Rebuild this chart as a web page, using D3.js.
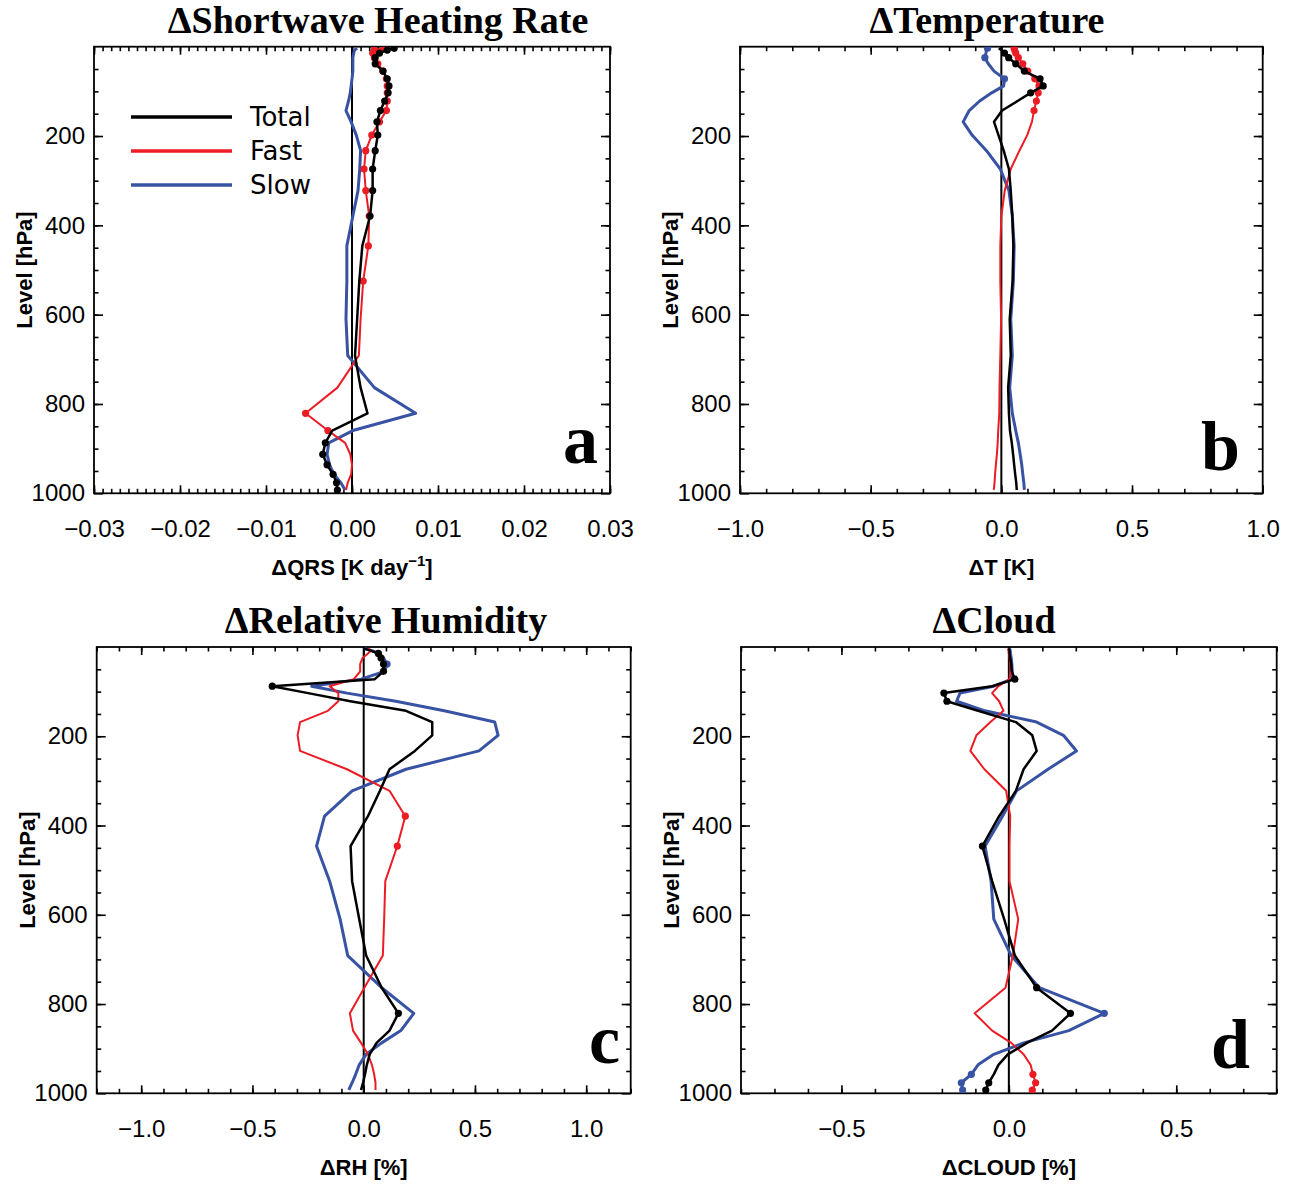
<!DOCTYPE html>
<html>
<head>
<meta charset="utf-8">
<script src="https://cdn.jsdelivr.net/npm/d3@7"></script>
<style>
  body { margin: 0; background: #fff; }
  .tick text { font-family: "Liberation Sans", Arial, sans-serif; font-size: 24px; fill: #000; }
  .axis-title { font-family: "Liberation Sans", Arial, sans-serif; font-size: 22px; font-weight: bold; }
  .title { font-family: "Liberation Serif", "Times New Roman", serif; font-size: 38px; font-weight: bold; }
  .letter { font-family: "Liberation Serif", "Times New Roman", serif; font-size: 70px; font-weight: bold; }
  .legend { font-family: "DejaVu Sans", sans-serif; font-size: 26px; }
</style>
</head>
<body>
<div id="chart"></div>
<script>
// model levels (hPa)
const levels = [3.64, 7.59, 14.36, 24.61, 38.27, 54.6, 72.01, 87.82, 103.32, 121.55, 142.99, 168.23,
  197.91, 232.83, 273.91, 322.24, 379.1, 445.99, 524.69, 609.78, 691.39, 763.4, 820.86, 859.53,
  887.02, 912.64, 936.2, 957.49, 976.33, 992.56];

// a: shortwave heating rate [K/day]
const qrsTotal = [0.0049, 0.0041, 0.0032, 0.0027, 0.0027, 0.0036, 0.0041, 0.0043, 0.0042, 0.0038, 0.0033, 0.0029,
  0.0030, 0.0027, 0.0024, 0.0024, 0.0021, 0.0012, 0.00085, 0.0006, 0.00035, 0.0010, 0.0018, -0.0023,
  -0.0031, -0.0034, -0.0029, -0.0022, -0.0018, -0.0017];
const qrsFast = [0.0038, 0.0026, 0.0024, 0.0026, 0.0030, 0.0036, 0.0040, 0.0041, 0.0041, 0.0041, 0.0040, 0.0032,
  0.0023, 0.0016, 0.0014, 0.0016, 0.0020, 0.0019, 0.0013, 0.0010, 0.0008, -0.0017, -0.0054, -0.0028,
  -0.0008, -0.0002, 0.0, -0.0001, -0.0005, -0.0007];
const qrsSlow = [0.0006, 0.0003, 0.0002, 0.0001, 0.0001, 0.0001, 0.0, -0.0001, -0.0002, -0.0004, -0.0007, -0.0001,
  0.0005, 0.0010, 0.0009, 0.0007, 0.0001, -0.0006, -0.0006, -0.0007, -0.0005, 0.0026, 0.0074, 0.0001,
  -0.0027, -0.0029, -0.0026, -0.0021, -0.0013, -0.0008];
const qrsTotalDots = [0, 1, 2, 3, 4, 5, 6, 7, 8, 9, 10, 11, 12, 13, 14, 15, 16, 24, 25, 26, 27, 28, 29];
const qrsFastDots = [0, 1, 2, 3, 4, 5, 6, 7, 8, 9, 10, 11, 12, 13, 14, 15, 16, 17, 18, 22, 23];
const qrsSlowDots = [];

// b: temperature [K]
const tTotal = [-0.010, 0.000, 0.012, 0.028, 0.055, 0.088, 0.148, 0.160, 0.112, 0.062, 0.003, -0.028,
  -0.011, 0.009, 0.029, 0.036, 0.042, 0.046, 0.043, 0.032, 0.036, 0.026, 0.029, 0.033,
  0.040, 0.045, 0.049, 0.053, 0.057, 0.059];
const tFast = [0.049, 0.051, 0.055, 0.065, 0.082, 0.101, 0.128, 0.144, 0.141, 0.134, 0.125, 0.117,
  0.099, 0.069, 0.036, 0.013, 0.000, -0.004, -0.004, -0.001, -0.004, -0.007, -0.008, -0.012,
  -0.014, -0.017, -0.021, -0.024, -0.026, -0.029];
const tSlow = [-0.053, -0.057, -0.059, -0.063, -0.050, -0.028, 0.012, 0.009, -0.037, -0.083, -0.123, -0.146,
  -0.112, -0.057, -0.004, 0.029, 0.042, 0.049, 0.046, 0.036, 0.042, 0.032, 0.042, 0.055,
  0.065, 0.072, 0.078, 0.082, 0.086, 0.088];
const tTotalDots = [2, 3, 4, 5, 6, 7, 8];
const tFastDots = [0, 1, 2, 3, 4, 5, 6, 7, 8, 9, 10];
const tSlowDots = [0, 3, 6];

// c: relative humidity [%]
const rhTotal = [0.003, 0.027, 0.066, 0.078, 0.089, 0.089, 0.05, -0.411, -0.25, -0.06, 0.19, 0.308,
  0.308, 0.23, 0.116, 0.073, 0.019, -0.059, -0.052, -0.02, 0.011, 0.081, 0.156, 0.116,
  0.058, 0.027, 0.014, 0.006, -0.003, -0.012];
const rhFast = [0.019, 0.034, 0.019, -0.005, -0.016, -0.016, -0.044, -0.153, -0.114, -0.114, -0.161, -0.286,
  -0.297, -0.286, -0.075, 0.116, 0.187, 0.151, 0.097, 0.092, 0.086, 0.003, -0.062, -0.048,
  -0.012, 0.019, 0.037, 0.047, 0.053, 0.053];
const rhSlow = [0.003, 0.034, 0.066, 0.089, 0.105, 0.094, -0.012, -0.234, -0.075, 0.144, 0.362, 0.589,
  0.604, 0.518, 0.19, -0.052, -0.176, -0.212, -0.153, -0.106, -0.072, 0.081, 0.225, 0.167,
  0.081, 0.011, -0.02, -0.036, -0.052, -0.067];
const rhTotalDots = [2, 3, 4, 5, 7, 22];
const rhFastDots = [16, 17];
const rhSlowDots = [4];

// d: cloud [%]
const cldTotal = [0, 0.002, 0.002, 0.004, 0.007, 0.009, 0.018, -0.05, -0.194, -0.185, -0.092, 0.021,
  0.07, 0.083, 0.044, 0.021, -0.029, -0.079, -0.05, -0.014, 0.018, 0.083, 0.184, 0.129,
  0.054, -0.003, -0.031, -0.045, -0.06, -0.069];
const cldFast = [-0.003, -0.001, 0, 0.002, 0.004, 0.005, 0.002, -0.031, -0.05, -0.029, -0.016, -0.055,
  -0.097, -0.115, -0.073, -0.008, 0.004, 0.002, 0.002, 0.028, 0.012, -0.01, -0.102, -0.05,
  0.007, 0.044, 0.065, 0.072, 0.08, 0.07];
const cldSlow = [0.002, 0.004, 0.005, 0.007, 0.009, 0.010, 0.009, -0.045, -0.146, -0.156, -0.071, 0.083,
  0.163, 0.202, 0.117, 0.023, -0.019, -0.071, -0.053, -0.045, 0.007, 0.091, 0.285, 0.179,
  0.044, -0.045, -0.092, -0.112, -0.142, -0.138];
const cldTotalDots = [6, 8, 9, 17, 21, 22, 28, 29];
const cldFastDots = [27, 28, 29];
const cldSlowDots = [22, 27, 28, 29];

const seriesNames = ['Total', 'Fast', 'Slow'];
const pressureTicks = [200, 400, 600, 800, 1000];

const colors = { Total: '#000000', Fast: '#ec1c24', Slow: '#3953a4' };
const widths = { Total: 2.5, Fast: 2, Slow: 3 };

const panels = [
  { id: 'a', title: '\u0394Shortwave Heating Rate', titleX: 378, xlabel: ['\u0394QRS [K day', '\u22121', ']'],
    box: [94, 610, 46.7, 493.3], domain: [-0.03, 0.03], major: 0.01, minor: 0.001, fmt: '.2f',
    total: qrsTotal, fast: qrsFast, slow: qrsSlow, dots: [qrsTotalDots, qrsFastDots, qrsSlowDots],
    letterPos: [598, 463], legend: true },
  { id: 'b', title: '\u0394Temperature', titleX: 987, xlabel: ['\u0394T [K]'],
    box: [740, 1262.7, 46.7, 493.3], domain: [-1, 1], major: 0.5, minor: 0.1, fmt: '.1f',
    total: tTotal, fast: tFast, slow: tSlow, dots: [tTotalDots, tFastDots, tSlowDots],
    letterPos: [1240, 470] },
  { id: 'c', title: '\u0394Relative Humidity', titleX: 386, xlabel: ['\u0394RH [%]'],
    box: [96.7, 630.7, 647, 1093.3], domain: [-1.2, 1.2], major: 0.5, minor: 0.1, fmt: '.1f',
    total: rhTotal, fast: rhFast, slow: rhSlow, dots: [rhTotalDots, rhFastDots, rhSlowDots],
    letterPos: [620, 1063] },
  { id: 'd', title: '\u0394Cloud', titleX: 994, xlabel: ['\u0394CLOUD [%]'],
    box: [741, 1276.7, 647, 1093.3], domain: [-0.8, 0.8], major: 0.5, minor: 0.1, fmt: '.1f',
    total: cldTotal, fast: cldFast, slow: cldSlow, dots: [cldTotalDots, cldFastDots, cldSlowDots],
    letterPos: [1250, 1068] }
];

const svg = d3.select('#chart').append('svg')
  .attr('width', 1293)
  .attr('height', 1185);

function stepTicks(domain, step) {
  const out = [];
  const n0 = Math.ceil(domain[0] / step - 1e-6), n1 = Math.floor(domain[1] / step + 1e-6);
  for (let i = n0; i <= n1; i++) out.push(+(i * step).toFixed(6));
  return out;
}

panels.forEach(p => {
  const [x0, x1, y0, y1] = p.box;
  const x = d3.scaleLinear().domain(p.domain).range([x0, x1]);
  const y = d3.scaleLinear().domain([0, 1000]).range([y0, y1]);
  const g = svg.append('g');

  const majors = stepTicks(p.domain, p.major);
  const minors = stepTicks(p.domain, p.minor);
  const yMinors = d3.range(50, 1000, 50);

  // minor ticks
  g.append('g').attr('transform', `translate(0,${y1})`)
    .call(d3.axisBottom(x).tickValues(minors).tickSize(-4.5).tickFormat(''));
  g.append('g').attr('transform', `translate(0,${y0})`)
    .call(d3.axisTop(x).tickValues(minors).tickSize(-4.5).tickFormat(''));
  g.append('g').attr('transform', `translate(${x0},0)`)
    .call(d3.axisLeft(y).tickValues(yMinors).tickSize(-4.5).tickFormat(''));
  g.append('g').attr('transform', `translate(${x1},0)`)
    .call(d3.axisRight(y).tickValues(yMinors).tickSize(-4.5).tickFormat(''));

  // major ticks
  g.append('g').attr('class', 'xaxis').attr('transform', `translate(0,${y1})`)
    .call(d3.axisBottom(x).tickValues(majors).tickSize(-8).tickPadding(27).tickFormat(d3.format(p.fmt)));
  g.append('g').attr('transform', `translate(0,${y0})`)
    .call(d3.axisTop(x).tickValues(majors).tickSize(-8).tickFormat(''));
  g.append('g').attr('class', 'yaxis').attr('transform', `translate(${x0},0)`)
    .call(d3.axisLeft(y).tickValues(pressureTicks).tickSize(-9).tickPadding(9).tickFormat(d3.format('d')));
  g.append('g').attr('transform', `translate(${x1},0)`)
    .call(d3.axisRight(y).tickValues(pressureTicks).tickSize(-9).tickFormat(''));

  g.selectAll('.domain').remove();
  g.selectAll('.tick line').attr('stroke', '#000').attr('stroke-width', 1.6);

  // frame
  g.append('rect')
    .attr('x', x0).attr('y', y0)
    .attr('width', x1 - x0).attr('height', y1 - y0)
    .attr('fill', 'none').attr('stroke', '#000').attr('stroke-width', 1.8);

  // zero line
  g.append('line')
    .attr('x1', x(0)).attr('x2', x(0))
    .attr('y1', y0).attr('y2', y1)
    .attr('stroke', '#000').attr('stroke-width', 2);

  const clipId = 'clip-' + p.id;
  g.append('clipPath').attr('id', clipId)
    .append('rect').attr('x', x0).attr('y', y0).attr('width', x1 - x0).attr('height', y1 - y0);

  const line = d3.line()
    .x(d => x(d[0]))
    .y(d => y(d[1]));

  const plot = g.append('g').attr('clip-path', `url(#${clipId})`);
  const values = [p.total, p.fast, p.slow];
  // draw slow first, then fast, then total on top
  [2, 1, 0].forEach(i => {
    const name = seriesNames[i];
    const pts = values[i].map((v, k) => [v, levels[k]]);
    plot.append('path')
      .datum(pts)
      .attr('d', line)
      .attr('fill', 'none')
      .attr('stroke', colors[name])
      .attr('stroke-width', widths[name])
      .attr('stroke-linejoin', 'round');
    plot.selectAll(null)
      .data(p.dots[i].map(k => pts[k]))
      .enter().append('circle')
      .attr('cx', d => x(d[0]))
      .attr('cy', d => y(d[1]))
      .attr('r', 3.6)
      .attr('fill', colors[name]);
  });

  // title
  svg.append('text').attr('class', 'title')
    .attr('x', p.titleX).attr('y', y0 - 14)
    .attr('text-anchor', 'middle')
    .text(p.title);

  // x axis title
  const xt = svg.append('text').attr('class', 'axis-title')
    .attr('x', (x0 + x1) / 2).attr('y', y1 + 82)
    .attr('text-anchor', 'middle');
  xt.append('tspan').text(p.xlabel[0]);
  if (p.xlabel.length > 1) {
    xt.append('tspan').attr('dy', -9).style('font-size', '15px').text(p.xlabel[1]);
    xt.append('tspan').attr('dy', 9).text(p.xlabel[2]);
  }

  // y axis title
  svg.append('text').attr('class', 'axis-title')
    .attr('transform', `translate(${x0 - 62},${(y0 + y1) / 2}) rotate(-90)`)
    .attr('text-anchor', 'middle')
    .text('Level [hPa]');

  // panel letter
  svg.append('text').attr('class', 'letter')
    .attr('x', p.letterPos[0]).attr('y', p.letterPos[1])
    .attr('text-anchor', 'end')
    .text(p.id);

  if (p.legend) {
    const lg = svg.append('g');
    seriesNames.forEach((name, i) => {
      const ly = 117 + i * 34;
      lg.append('line')
        .attr('x1', 131).attr('x2', 232).attr('y1', ly).attr('y2', ly)
        .attr('stroke', colors[name]).attr('stroke-width', 3.5);
      lg.append('text').attr('class', 'legend')
        .attr('x', 250).attr('y', ly + 9)
        .text(name);
    });
  }
});
</script>
</body>
</html>
